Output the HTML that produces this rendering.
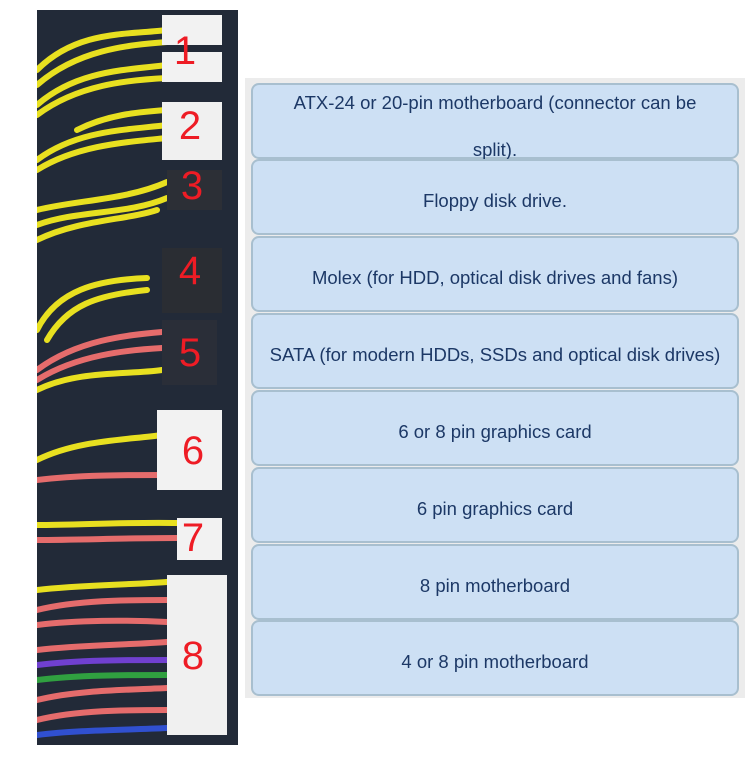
<!DOCTYPE html>
<html><head><meta charset="utf-8"><style>
body{margin:0;width:745px;height:767px;background:#fff;position:relative;overflow:hidden;font-family:"Liberation Sans",sans-serif}
#panel{position:absolute;left:245px;top:78px;width:500px;height:620px;background:#ececec}
.b{position:absolute;left:251px;width:484px;height:72px;background:#cde0f4;border:2px solid #a8bfcf;border-radius:8px;box-sizing:content-box;color:#1c3866;font-size:18.5px;text-align:center;line-height:80px;overflow:visible}
svg{position:absolute;left:37px;top:10px}
</style></head><body>
<svg width="201" height="735" viewBox="0 0 201 735">
<rect width="201" height="735" fill="#222a38"/>
<g fill="none" stroke-linecap="round">
<g stroke="#e8e020" stroke-width="6">
<path d="M0 60 C40 20 90 25 130 20"/><path d="M0 75 C40 40 90 35 130 32"/>
<path d="M0 95 C40 60 90 60 130 55"/><path d="M0 105 C40 75 90 70 130 68"/>
<path d="M40 120 C70 105 100 102 130 100"/><path d="M0 150 C40 120 90 120 130 115"/><path d="M0 160 C40 135 90 132 130 128"/>
<path d="M0 200 C40 190 90 190 130 172"/><path d="M0 215 C40 200 90 205 130 188"/><path d="M0 230 C40 210 90 210 120 200"/>
<path d="M0 320 C20 280 60 270 110 268"/><path d="M10 330 C30 295 60 285 110 280"/>
<path d="M0 380 C40 360 90 365 125 360"/>
<path d="M0 450 C40 430 90 430 125 425"/>
<path d="M0 515 C40 515 90 512 140 513"/>
</g>
<g stroke="#e56c6c" stroke-width="6">
<path d="M0 360 C40 330 90 325 125 322"/><path d="M0 370 C40 345 90 340 125 338"/>
<path d="M0 470 C40 465 90 465 125 465"/><path d="M0 530 C40 530 90 528 140 528"/>
<path d="M0 600 C40 590 90 590 130 590"/><path d="M0 615 C40 610 90 610 130 612"/><path d="M0 640 C40 635 90 635 130 632"/>
<path d="M0 690 C40 680 90 680 130 678"/><path d="M0 710 C40 700 90 700 130 700"/>
</g>
<path d="M0 655 C40 650 90 650 130 650" stroke="#7040d0" stroke-width="6"/>
<path d="M0 670 C40 665 90 665 130 665" stroke="#30a040" stroke-width="6"/>
<path d="M0 725 C40 720 90 720 130 718" stroke="#3050d0" stroke-width="6"/>
<path d="M0 580 C40 575 90 575 130 572" stroke="#e8e020" stroke-width="6"/>
</g>
<rect x="125" y="5" width="60" height="30" fill="#f2f2f2"/><rect x="125" y="42" width="60" height="30" fill="#f2f2f2"/>
<rect x="125" y="92" width="60" height="58" fill="#f0f0f0"/>
<rect x="130" y="160" width="55" height="40" fill="#2c2f36"/>
<rect x="125" y="238" width="60" height="65" fill="#2a2d33"/>
<rect x="125" y="310" width="55" height="65" fill="#2a2e38"/>
<rect x="120" y="400" width="65" height="80" fill="#f2f2f2"/>
<rect x="140" y="508" width="45" height="42" fill="#f2f2f2"/>
<rect x="130" y="565" width="60" height="160" fill="#f0f0f0"/>
<g fill="#ee1c25" font-family="Liberation Sans,sans-serif" font-size="40" text-anchor="middle">
<text x="148" y="54">1</text><text x="153" y="129">2</text><text x="155" y="189">3</text><text x="153" y="274">4</text><text x="153" y="356">5</text><text x="156" y="454">6</text><text x="156" y="541">7</text><text x="156" y="659">8</text>
</g>
</svg>
<div id="panel"></div>
<div class="b" style="top:83px"><div style="line-height:47px;margin-top:-6px">ATX-24 or 20-pin motherboard (connector can be<br>split).</div></div>
<div class="b" style="top:159px">Floppy disk drive.</div>
<div class="b" style="top:236px">Molex (for HDD, optical disk drives and fans)</div>
<div class="b" style="top:313px">SATA (for modern HDDs, SSDs and optical disk drives)</div>
<div class="b" style="top:390px">6 or 8 pin graphics card</div>
<div class="b" style="top:467px">6 pin graphics card</div>
<div class="b" style="top:544px">8 pin motherboard</div>
<div class="b" style="top:620px">4 or 8 pin motherboard</div>
</body></html>
